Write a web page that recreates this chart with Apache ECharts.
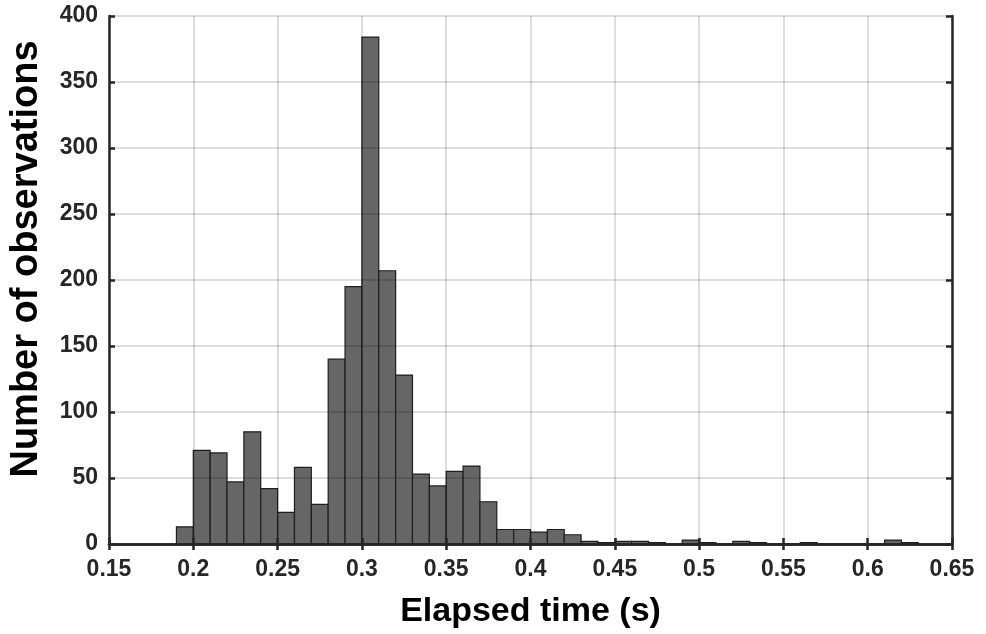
<!DOCTYPE html>
<html>
<head>
<meta charset="utf-8">
<script src="https://cdn.jsdelivr.net/npm/echarts@6/dist/echarts.min.js"></script>
<style>
  html, body { margin: 0; padding: 0; background: #fff; }
  #chart { width: 986px; height: 634px; }
</style>
</head>
<body>
<div id="chart"></div>
<script>
// histogram bins (s) and counts
var binEdges = [0.19, 0.20, 0.21, 0.22, 0.23, 0.24, 0.25, 0.26, 0.27, 0.28,
                0.29, 0.30, 0.31, 0.32, 0.33, 0.34, 0.35, 0.36, 0.37, 0.38,
                0.39, 0.40, 0.41, 0.42, 0.43, 0.44, 0.45, 0.46, 0.47, 0.48,
                0.49, 0.50, 0.51, 0.52, 0.53, 0.54, 0.55, 0.56, 0.57, 0.58,
                0.59, 0.60, 0.61, 0.62, 0.63];
var counts = [13, 71, 69, 47, 85, 42, 24, 58, 30, 140,
              195, 384, 207, 128, 53, 44, 55, 59, 32, 11,
              11, 9, 11, 7, 2, 1, 2, 2, 1, 0,
              3, 1, 0, 2, 1, 0, 0, 1, 0, 0,
              0, 0, 3, 1];

var xTitle = 'Elapsed time (s)';
var yTitle = 'Number of observations';

var font = "'Liberation Sans', Arial, sans-serif";

var bars = [];
for (var i = 0; i < counts.length; i++) {
  bars.push([binEdges[i], binEdges[i + 1], counts[i]]);
}

var myChart = echarts.init(document.getElementById('chart'));

var lineCol = '#262626';
var gridCol = 'rgba(0,0,0,0.13)';

var option = {
  animation: false,
  grid: { left: 109, right: 34, top: 16, bottom: 90 },
  xAxis: [
    {
      type: 'value', min: 0.15, max: 0.65, interval: 0.05, z: 10,
      name: xTitle, nameLocation: 'middle', nameGap: 51,
      nameTextStyle: { fontFamily: font, fontWeight: 'bold', fontSize: 34, color: '#000' },
      axisLine: { show: true, lineStyle: { color: lineCol, width: 2.5 } },
      axisTick: { inside: true, length: 6, lineStyle: { color: lineCol, width: 2.5 } },
      axisLabel: { margin: 14, fontFamily: font, fontWeight: 'bold', fontSize: 23, color: lineCol },
      splitLine: { show: true, lineStyle: { color: gridCol, width: 2 } }
    },
    {
      type: 'value', position: 'top', min: 0.15, max: 0.65, interval: 0.05, z: 10,
      axisLine: { show: true, lineStyle: { color: lineCol, width: 2.5 } },
      axisTick: { inside: true, length: 6, lineStyle: { color: lineCol, width: 2.5 } },
      axisLabel: { show: false },
      splitLine: { show: false }
    }
  ],
  yAxis: [
    {
      type: 'value', min: 0, max: 400, interval: 50, z: 10,
      name: yTitle, nameLocation: 'middle', nameGap: 63,
      nameTextStyle: { fontFamily: font, fontWeight: 'bold', fontSize: 38, color: '#000', padding: [0, 0, 0, 42] },
      axisLine: { show: true, lineStyle: { color: lineCol, width: 2.5 } },
      axisTick: { inside: true, length: 6, lineStyle: { color: lineCol, width: 2.5 } },
      axisLabel: { margin: 11, fontFamily: font, fontWeight: 'bold', fontSize: 23, color: lineCol },
      splitLine: { show: true, lineStyle: { color: gridCol, width: 2 } }
    },
    {
      type: 'value', position: 'right', min: 0, max: 400, interval: 50, z: 10,
      axisLine: { show: true, lineStyle: { color: lineCol, width: 2.5 } },
      axisTick: { inside: true, length: 6, lineStyle: { color: lineCol, width: 2.5 } },
      axisLabel: { show: false },
      splitLine: { show: false }
    }
  ],
  series: [
    {
      type: 'custom',
      xAxisIndex: 0,
      yAxisIndex: 0,
      data: bars,
      encode: { x: [0, 1], y: 2 },
      renderItem: function (params, api) {
        var p0 = api.coord([api.value(0), api.value(2)]);
        var p1 = api.coord([api.value(1), 0]);
        return {
          type: 'rect',
          shape: { x: p0[0], y: p0[1], width: p1[0] - p0[0], height: p1[1] - p0[1] },
          style: { fill: '#666666', stroke: '#1e1e1e', lineWidth: 1.2 }
        };
      }
    }
  ]
};

myChart.setOption(option);
</script>
</body>
</html>
